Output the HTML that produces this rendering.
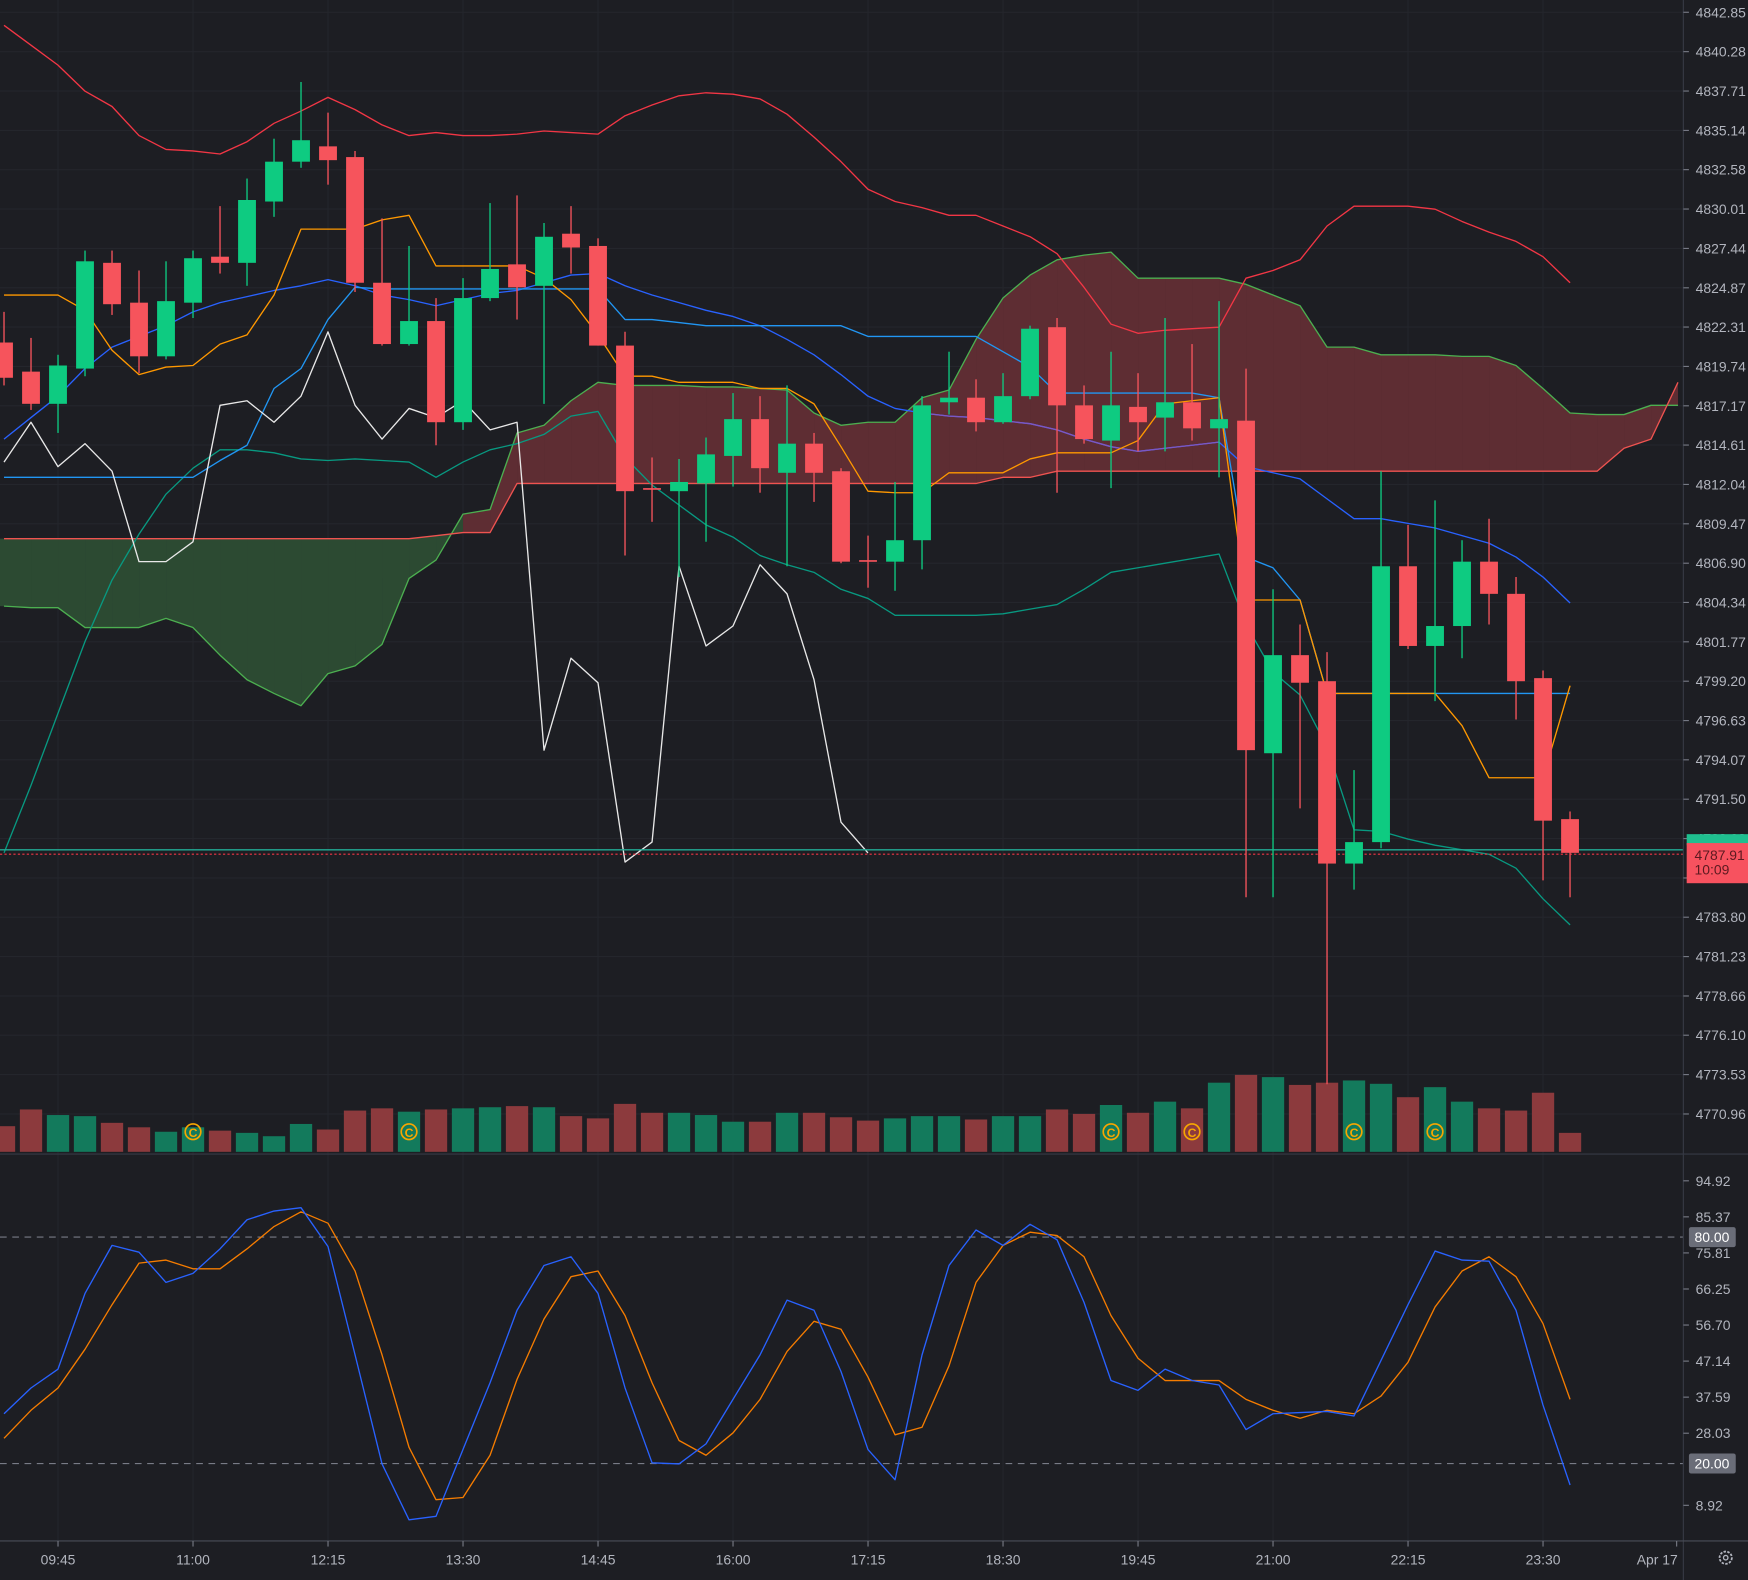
<!DOCTYPE html>
<html><head><meta charset="utf-8">
<style>
html,body{margin:0;padding:0;background:#1d1e23;overflow:hidden;}
svg{display:block;font-family:"Liberation Sans",sans-serif;}
</style></head>
<body>
<svg id="chart" width="1748" height="1580" viewBox="0 0 1568 1417" preserveAspectRatio="none" xmlns="http://www.w3.org/2000/svg">
<rect x="0" y="0" width="1568" height="1417" fill="#1d1e23"/>
<g id="grid"></g>
<g id="cloud"></g>
<g id="lines"></g>
<g id="vol"></g>
<g id="candles"></g>
<g id="stoch"></g>
<g id="axes"></g>
</svg>
<script>
const openP=[4821.3,4819.4,4817.3,4819.6,4826.5,4823.9,4820.4,4823.9,4826.9,4826.5,4830.5,4833.1,4834.1,4833.4,4825.2,4821.2,4822.7,4816.1,4824.2,4826.4,4825.0,4828.4,4827.6,4821.1,4811.8,4811.6,4812.1,4813.9,4816.3,4812.8,4814.7,4812.9,4807.1,4807.0,4808.4,4817.4,4817.7,4816.1,4817.8,4822.3,4817.2,4814.9,4817.1,4816.4,4817.4,4815.7,4816.2,4794.5,4800.9,4799.2,4787.3,4788.7,4806.7,4801.5,4802.8,4807.0,4804.9,4799.4,4790.2];
const highP=[4823.3,4821.6,4820.5,4827.3,4827.3,4826.0,4826.6,4827.3,4830.2,4832.0,4834.6,4838.3,4836.3,4833.8,4829.4,4827.6,4824.2,4825.5,4830.4,4830.9,4829.1,4830.2,4828.1,4822.0,4813.8,4813.7,4815.1,4818.0,4817.8,4818.5,4815.4,4813.1,4808.7,4812.2,4817.8,4820.7,4818.9,4819.3,4822.4,4822.9,4818.5,4820.7,4819.3,4822.9,4821.2,4824.0,4819.6,4805.2,4802.9,4801.1,4793.4,4812.9,4809.4,4811.0,4808.4,4809.8,4806.0,4799.9,4790.7];
const lowP=[4818.5,4816.9,4815.4,4819.1,4823.1,4819.3,4820.2,4822.9,4825.8,4825.0,4829.5,4832.7,4831.6,4824.6,4821.1,4821.1,4814.6,4815.6,4824.0,4822.8,4817.3,4825.8,4821.1,4807.4,4809.6,4806.0,4808.3,4811.9,4811.5,4806.7,4810.9,4806.9,4805.3,4805.1,4806.5,4816.6,4815.5,4816.0,4817.6,4811.5,4814.7,4811.8,4814.2,4814.2,4814.9,4812.5,4785.1,4785.1,4790.9,4772.9,4785.6,4788.3,4801.3,4797.9,4800.7,4802.9,4796.7,4786.2,4785.1];
const closeP=[4819.0,4817.3,4819.8,4826.6,4823.8,4820.4,4824.0,4826.8,4826.5,4830.6,4833.1,4834.5,4833.2,4825.2,4821.2,4822.7,4816.1,4824.2,4826.1,4824.9,4828.2,4827.5,4821.1,4811.6,4811.7,4812.2,4814.0,4816.3,4813.1,4814.7,4812.8,4807.0,4807.0,4808.4,4817.2,4817.7,4816.1,4817.8,4822.2,4817.2,4815.0,4817.2,4816.1,4817.4,4815.7,4816.3,4794.7,4800.9,4799.1,4787.3,4788.7,4806.7,4801.5,4802.8,4807.0,4804.9,4799.2,4790.1,4788.0];
const volume=[2300,3800,3300,3200,2600,2200,1800,2200,1900,1700,1400,2500,2000,3700,3900,3600,3800,3900,4000,4100,4000,3200,3000,4300,3500,3500,3300,2700,2700,3500,3500,3100,2800,3000,3200,3200,2900,3200,3200,3800,3400,4200,3500,4500,3900,6200,6900,6700,6000,6200,6400,6100,4900,5800,4500,3900,3700,5300,1700];
const markerIdx=[7,15,41,44,50,53];
const bbUpper=[4842.0,4840.7,4839.4,4837.7,4836.7,4834.8,4833.9,4833.8,4833.6,4834.4,4835.6,4836.4,4837.3,4836.5,4835.5,4834.8,4835.0,4834.8,4834.8,4834.9,4835.1,4835.0,4834.9,4836.1,4836.8,4837.4,4837.6,4837.5,4837.2,4836.2,4834.7,4833.1,4831.3,4830.5,4830.1,4829.6,4829.6,4828.9,4828.2,4827.1,4824.9,4822.5,4821.9,4822.1,4822.2,4822.3,4825.5,4826.0,4826.7,4828.9,4830.2,4830.2,4830.2,4830.0,4829.2,4828.5,4827.9,4826.9,4825.2];
const bbBasis=[4815.0,4816.4,4817.8,4819.6,4821.0,4821.7,4822.4,4823.3,4823.9,4824.3,4824.7,4825.0,4825.4,4825.0,4824.4,4824.1,4823.7,4824.1,4824.5,4824.7,4825.2,4825.7,4825.8,4825.0,4824.4,4823.9,4823.4,4823.0,4822.4,4821.5,4820.5,4819.2,4817.8,4817.0,4816.7,4816.5,4816.4,4816.2,4816.0,4815.6,4815.0,4814.5,4814.2,4814.4,4814.6,4814.8,4813.2,4812.8,4812.4,4811.1,4809.8,4809.8,4809.5,4809.2,4808.7,4808.2,4807.3,4806.0,4804.3];
const bbLower=[4788.0,4792.4,4797.1,4801.8,4805.8,4808.8,4811.4,4813.1,4814.3,4814.3,4814.1,4813.7,4813.6,4813.7,4813.6,4813.5,4812.5,4813.5,4814.3,4814.7,4815.3,4816.5,4816.8,4813.8,4812.0,4810.7,4809.4,4808.6,4807.4,4806.8,4806.3,4805.2,4804.6,4803.5,4803.5,4803.5,4803.5,4803.6,4803.9,4804.2,4805.2,4806.3,4806.6,4806.9,4807.2,4807.5,4802.9,4799.8,4798.3,4794.9,4789.5,4789.4,4788.9,4788.5,4788.2,4787.9,4787.0,4785.0,4783.3];
const tenkan=[4812.5,4812.5,4812.5,4812.5,4812.5,4812.5,4812.5,4812.5,4813.6,4814.6,4818.3,4819.6,4822.8,4824.9,4824.8,4824.8,4824.8,4824.8,4824.8,4824.8,4824.8,4824.8,4824.8,4822.8,4822.8,4822.6,4822.4,4822.4,4822.4,4822.4,4822.4,4822.4,4821.7,4821.7,4821.7,4821.7,4821.7,4820.7,4819.7,4818.0,4818.0,4818.0,4818.0,4818.0,4818.0,4817.7,4807.3,4806.6,4804.5,4798.4,4798.4,4798.4,4798.4,4798.4,4798.4,4798.4,4798.4,4798.4,4798.4];
const kijun=[4824.4,4824.4,4824.4,4823.4,4820.8,4819.2,4819.7,4819.8,4821.2,4821.8,4824.4,4828.7,4828.7,4828.7,4829.3,4829.6,4826.3,4826.3,4826.3,4826.3,4825.5,4824.1,4821.8,4819.1,4819.1,4818.7,4818.7,4818.7,4818.3,4818.3,4817.3,4814.5,4811.6,4811.5,4811.5,4812.8,4812.8,4812.8,4813.7,4814.1,4814.1,4814.1,4814.9,4817.3,4817.5,4817.7,4804.5,4804.5,4804.5,4798.4,4798.4,4798.4,4798.4,4798.4,4796.3,4792.9,4792.9,4792.9,4798.9];
const lagging=[4813.5,4816.1,4813.2,4814.7,4812.9,4807.0,4807.0,4808.3,4817.2,4817.5,4816.1,4817.8,4822.0,4817.2,4815.0,4817.0,4816.4,4817.5,4815.6,4816.1,4794.7,4800.7,4799.1,4787.4,4788.7,4806.7,4801.5,4802.8,4806.8,4804.9,4799.3,4790.0,4788.0];
const spanA=[4804.1,4804.0,4804.0,4802.7,4802.7,4802.7,4803.3,4802.7,4800.9,4799.3,4798.4,4797.6,4799.7,4800.2,4801.6,4805.9,4807.1,4810.1,4810.4,4815.4,4815.9,4817.5,4818.7,4818.5,4818.5,4818.5,4818.4,4818.4,4818.3,4818.2,4816.7,4815.9,4816.1,4816.1,4817.7,4818.2,4821.5,4824.2,4825.7,4826.7,4827.0,4827.2,4825.5,4825.5,4825.5,4825.5,4825.1,4824.4,4823.7,4821.0,4821.0,4820.5,4820.5,4820.5,4820.4,4820.4,4819.8,4818.3,4816.7,4816.6,4816.6,4817.2,4817.2];
const spanB=[4808.5,4808.5,4808.5,4808.5,4808.5,4808.5,4808.5,4808.5,4808.5,4808.5,4808.5,4808.5,4808.5,4808.5,4808.5,4808.5,4808.7,4808.9,4808.9,4812.1,4812.1,4812.1,4812.1,4812.1,4812.1,4812.1,4812.1,4812.1,4812.1,4812.1,4812.1,4812.1,4812.1,4812.1,4812.1,4812.1,4812.1,4812.5,4812.5,4812.9,4812.9,4812.9,4812.9,4812.9,4812.9,4812.9,4812.9,4812.9,4812.9,4812.9,4812.9,4812.9,4812.9,4812.9,4812.9,4812.9,4812.9,4812.9,4812.9,4812.9,4814.4,4815.0,4818.7];
const stochK=[33.2,40.0,45.0,65.1,77.8,76.0,68.0,70.4,76.9,84.6,86.9,87.8,77.5,48.8,19.9,5.1,6.0,23.7,41.4,60.6,72.5,74.8,65.1,40.0,20.2,19.9,25.2,37.0,48.8,63.3,60.6,44.4,23.7,15.7,48.8,72.5,81.9,77.8,83.4,79.3,62.7,42.0,39.4,45.0,42.0,40.8,29.0,33.2,33.5,33.8,32.6,47.3,62.1,76.3,73.9,73.6,60.6,35.5,14.3];
const stochD=[26.7,34.1,40.0,50.3,62.1,73.1,73.9,71.6,71.6,76.9,82.8,86.7,83.7,71.0,48.8,24.3,10.4,11.0,22.2,42.3,58.3,69.5,71.0,59.2,41.4,26.1,22.2,28.1,37.0,49.7,57.7,55.6,42.9,27.6,29.6,45.9,68.0,77.8,81.3,80.4,74.8,59.2,47.9,42.0,42.0,42.0,37.0,34.1,32.0,34.1,33.2,37.9,46.8,61.5,71.0,74.8,69.5,57.1,37.0];
const priceTicks=["4842.85","4840.28","4837.71","4835.14","4832.58","4830.01","4827.44","4824.87","4822.31","4819.74","4817.17","4814.61","4812.04","4809.47","4806.90","4804.34","4801.77","4799.20","4796.63","4794.07","4791.50","4788.93","4786.36","4783.80","4781.23","4778.66","4776.10","4773.53","4770.96"];
const stochTicks=["94.92","85.37","75.81","66.25","56.70","47.14","37.59","28.03","8.92"];
const timeLabels=["09:45","11:00","12:15","13:30","14:45","16:00","17:15","18:30","19:45","21:00","22:15","23:30"];
const timeIdx=[2,7,12,17,22,27,32,37,42,47,52,57];
const lastPrice=4787.91, prevLine=4788.2;

const NS="http://www.w3.org/2000/svg";
const xOf=i=>3.6+24.22*i;
const yP=p=>11+(4842.85-p)*13.744;
const yS=v=>1059+(94.92-v)*3.384;
const yV=v=>1033-v*0.01;
function mk(tag,parent,attrs){const e=document.createElementNS(NS,tag);for(const k in attrs)e.setAttribute(k,attrs[k]);document.getElementById(parent).appendChild(e);return e;}
function poly(parent,vals,fy,color,name,start,w){let pts=[];for(let i=0;i<vals.length;i++){if(vals[i]==null)continue;pts.push(xOf(i+(start||0)).toFixed(1)+","+fy(vals[i]).toFixed(1));}
 const e=mk("polyline",parent,{points:pts.join(" "),fill:"none",stroke:color,"stroke-width":w||1.2,"stroke-linejoin":"round"});
 
 return e;}

// grid
priceTicks.forEach(t=>{const y=yP(parseFloat(t));const l=mk("line","grid",{x1:0,x2:1510,y1:y,y2:y,stroke:"#24262c","stroke-width":1});
 
 });
timeIdx.forEach(i=>{const l=mk("line","grid",{x1:xOf(i),x2:xOf(i),y1:0,y2:1382,stroke:"#24262c","stroke-width":1});
 
 });

// cloud
for(let i=0;i<spanA.length-1;i++){
 const a0=yP(spanA[i]),a1=yP(spanA[i+1]),b0=yP(spanB[i]),b1=yP(spanB[i+1]);
 const x0=i==0?0:xOf(i),x1=Math.min(xOf(i+1),1510);
 const green=(a0+a1)>(b0+b1);
 const p=mk("polygon","cloud",{points:`${x0},${a0} ${x1},${a1} ${x1},${b1} ${x0},${b0}`,fill:green?"#2c4a32":"#5e2d33",stroke:"none"});
 
 
}
poly("cloud",spanA,yP,"#4caf50","leading-span-a");
poly("cloud",spanB,yP,"#ef5350","leading-span-b");

// lines
poly("lines",bbUpper,yP,"#f23645","bollinger-upper");
poly("lines",bbLower,yP,"#089981","bollinger-lower");
poly("lines",bbBasis,yP,"#2962ff","bollinger-basis");
poly("lines",bbBasis.slice(34,46),yP,"#7e57c2","bollinger-basis-purple",34);
poly("lines",tenkan,yP,"#2196f3","conversion-line");
poly("lines",kijun,yP,"#ff9800","base-line");
poly("lines",lagging,yP,"#e8e8e8","lagging-span");
{const l1=mk("line","lines",{x1:0,x2:1510,y1:yP(prevLine),y2:yP(prevLine),stroke:"#22ab94","stroke-width":1.2});
 
 
 const l2=mk("line","lines",{x1:0,x2:1510,y1:yP(lastPrice),y2:yP(lastPrice),stroke:"#f23645","stroke-width":1,"stroke-dasharray":"2 2"});
 
 }

// volume
volume.forEach((v,i)=>{const up=closeP[i]>=openP[i]&&!(closeP[i]==openP[i]);
 const r=mk("rect","vol",{x:xOf(i)-10,y:yV(v),width:20,height:1033-yV(v),fill:up?"#137a5c":"#8c3a3d"});
 
 });
markerIdx.forEach(i=>{const c=mk("circle","vol",{cx:xOf(i),cy:1015,r:7,fill:"none",stroke:"#f7a600","stroke-width":1.5});
 
 
 const t=mk("text","vol",{x:xOf(i),y:1019.5,"text-anchor":"middle","font-size":"11","font-weight":"bold",fill:"#f7a600"});t.textContent="C";
 
 });

// candles
openP.forEach((o,i)=>{const c=closeP[i];const up=c>o;const col=up?"#0ecb81":"#f6545c";const x=xOf(i);
 const w=mk("line","candles",{x1:x,x2:x,y1:yP(highP[i]),y2:yP(lowP[i]),stroke:col,"stroke-width":1.2});
 
 
 const top=yP(Math.max(o,c)),bot=yP(Math.min(o,c));
 const b=mk("rect","candles",{x:x-8,y:top,width:16,height:Math.max(1.5,bot-top),fill:col});
 
 });

// stochastic
[80,20].forEach(v=>{const l=mk("line","stoch",{x1:0,x2:1510,y1:yS(v),y2:yS(v),stroke:"#787b86","stroke-width":1,"stroke-dasharray":"6 5"});
 
 });
poly("stoch",stochD,yS,"#f57c00","stoch-d-line");
poly("stoch",stochK,yS,"#2962ff","stoch-k-line");

// axes
function line(x1,y1,x2,y2,c,name){const l=mk("line","axes",{x1,y1,x2,y2,stroke:c,"stroke-width":1});
 
 }
line(1510,0,1510,1417,"#363a45","price-axis-border");
line(0,1035,1568,1035,"#363a45","pane-separator");
line(0,1382,1568,1382,"#4a4d57","time-axis-border");
function txt(x,y,s,name,anchor,fill,size){const t=mk("text","axes",{x,y,"text-anchor":anchor||"start",fill:fill||"#b2b5be","font-size":size||12.5});t.textContent=s;
 
 return t;}
priceTicks.forEach(t=>{const y=yP(parseFloat(t));line(1510,y,1515,y,"#787b86","price-tick");txt(1521,y+4.5,t,"price-tick-label");});
stochTicks.forEach(t=>{const y=yS(parseFloat(t));line(1510,y,1515,y,"#787b86","stoch-tick");txt(1521,y+4.5,t,"stoch-tick-label");});
timeIdx.forEach((i,k)=>{line(xOf(i),1382,xOf(i),1387,"#787b86","time-tick");txt(xOf(i),1403,timeLabels[k],"time-label","middle");});
line(1504,1382,1504,1387,"#787b86","time-tick");
txt(1505,1403,"Apr 17","date-label","end");
// badges
[80,20].forEach(v=>{const r=mk("rect","axes",{x:1515,y:yS(v)-9,width:42,height:18,rx:2,fill:"#6a6d78"});
 
 
 txt(1520,yS(v)+4.5,v.toFixed(2),"stoch-level-label","start","#ffffff");});
{const g=mk("rect","axes",{x:1513,y:yP(prevLine)-14,width:55,height:10,fill:"#1fbf8f"});
 
 
 const r=mk("rect","axes",{x:1513,y:yP(lastPrice)-10,width:55,height:36,fill:"#f7525f"});
 
 
 txt(1520,yP(lastPrice)+5,lastPrice.toFixed(2),"last-price-label","start","#5c1a20",12.5);
 txt(1520,yP(lastPrice)+18,"10:09","countdown-label","start","#5c1a20",12.5);}
{const c=mk("circle","axes",{cx:1548,cy:1397,r:5.5,fill:"none",stroke:"#b2b5be","stroke-width":1.6,"stroke-dasharray":"2.2 1.2"});
 
 
 const c2=mk("circle","axes",{cx:1548,cy:1397,r:2,fill:"none",stroke:"#b2b5be","stroke-width":1.2});
 
 }
</script>
</body></html>
